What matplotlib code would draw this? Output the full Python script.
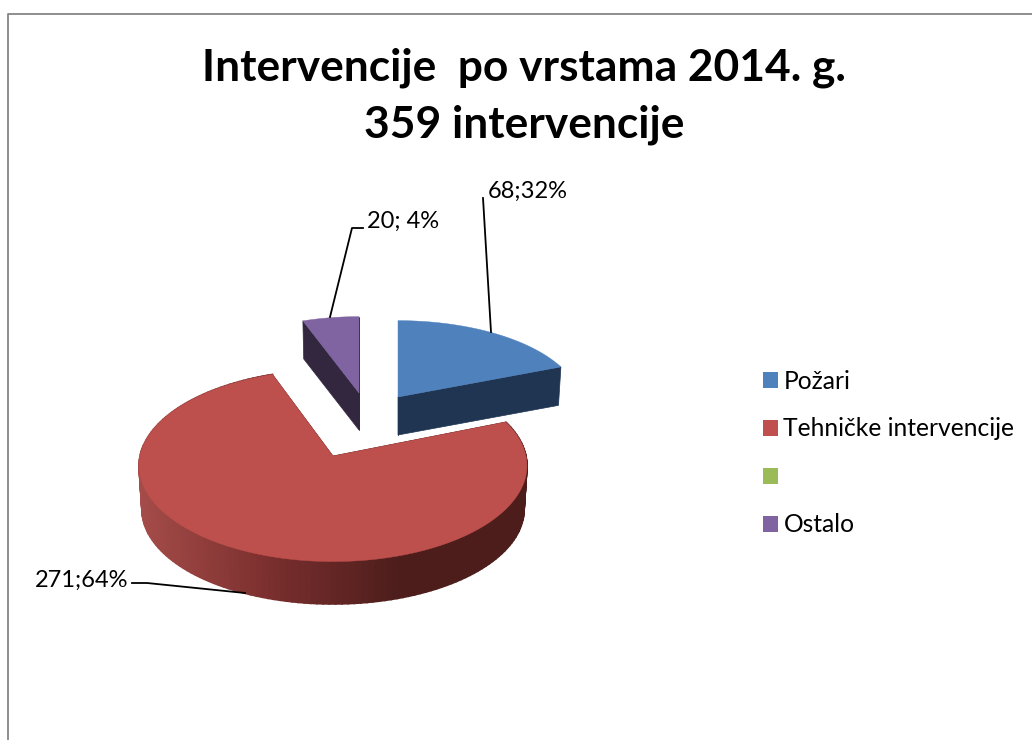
import numpy as np
import matplotlib
matplotlib.use('Agg')
import matplotlib.pyplot as plt
from matplotlib.patches import Patch
from matplotlib.colors import LinearSegmentedColormap

plt.rcParams['font.family'] = ['Lato', 'DejaVu Sans']

# Data
title_text = 'Intervencije  po vrstama 2014. g.\n359 intervencije'
categories = ['Požari', 'Tehničke intervencije', '', 'Ostalo']
values = [68, 271, 0, 20]
data_labels = ['68;32%', '271;64%', '', '20; 4%']

# Styles, one entry per slice
top_colors = ['#4F81BD', '#BD4F4C', '#9BBB59', '#8064A2']
side_colors = ['#1F3552', '#4C1D1B', '#5D7035', '#33273F']
centers = [(398, 397), (333, 456), (360, 430), (359, 393)]
radius_x = [182, 193, 180, 179]
radius_y = [84, 95, 84, 84]
depths = [38, 44, 38, 37]
PERSP = 0.1
SHRINK = 0.985

red_side = LinearSegmentedColormap.from_list('red_side', ['#A54C49', '#7A2F2E', '#4C1D1B', '#4C1D1B'])


def rim(i, theta, bottom=False):
    # screen position of a rim point, theta in degrees clockwise from north
    t = np.radians(theta)
    d = 1 + PERSP * np.cos(t)
    x = radius_x[i] * np.sin(t) / d
    y = radius_y[i] * np.cos(t) / d
    if bottom:
        return centers[i][0] + SHRINK * x, centers[i][1] - SHRINK * y + depths[i]
    return centers[i][0] + x, centers[i][1] - y


fig = plt.figure(figsize=(10.32, 7.4), dpi=100)
ax = fig.add_axes([0, 0, 1, 1])
ax.set_xlim(0, 1032)
ax.set_ylim(740, 0)
ax.axis('off')

# Chart border, only left and top are visible
ax.plot([7.5, 7.5, 1032], [740, 13.5, 13.5], color='#868686', lw=1.3)

# Slices
ends = 360 * np.cumsum(values) / np.sum(values)
starts = ends - 360 * np.array(values) / np.sum(values)

for i in [1, 3, 0]:
    a1, a2 = starts[i], ends[i]
    cx, cy = centers[i]

    # cut faces
    for a in [a1, a2]:
        xt, yt = rim(i, a)
        xb, yb = rim(i, a, bottom=True)
        ax.fill([cx, xt, xb, cx], [cy, yt, yb, cy + depths[i]], color=side_colors[i], lw=0.5)

    # outer wall, shaded by slice for the big one
    if values[i] > 100:
        steps = np.linspace(a1, a2, 160)
        for a, b in zip(steps[:-1], steps[1:]):
            xs = [rim(i, a)[0], rim(i, b)[0], rim(i, b, True)[0], rim(i, a, True)[0]]
            ys = [rim(i, a)[1], rim(i, b)[1], rim(i, b, True)[1], rim(i, a, True)[1]]
            pos = np.clip((np.mean(xs) - 139) / 390, 0, 1)
            ax.fill(xs, ys, color=red_side(pos), lw=1.2)

    # top surface
    arc = np.linspace(a1, a2, 300)
    px, py = rim(i, arc)
    ax.fill(np.r_[cx, px], np.r_[cy, py], color=top_colors[i], lw=0.3)

# Leader lines
ax.plot([491, 483], [332, 198], color='black', lw=1.3)
ax.plot([330, 352, 363], [317, 228, 228], color='black', lw=1.3)
ax.plot([245, 147, 132], [593, 583, 583], color='black', lw=1.3)

# Data labels
ax.text(488, 191, data_labels[0], fontsize=17, ha='left', va='center', color='black')
ax.text(367, 221, data_labels[3], fontsize=17, ha='left', va='center', color='black')
ax.text(35, 580, data_labels[1], fontsize=17, ha='left', va='center', color='black')

# Title
ax.text(524, 68, title_text.split('\n')[0], fontsize=31.9, fontweight='bold', ha='center', va='center')
ax.text(524, 125, title_text.split('\n')[1], fontsize=31.9, fontweight='bold', ha='center', va='center')

# Legend
handles = [Patch(facecolor=c, edgecolor='none') for c in ['#4F81BD', '#C0504D', '#9BBB59', '#8064A2']]
leg = ax.legend(handles, categories, loc='upper left', bbox_to_anchor=(763 / 1032, 1 - 369.5 / 740),
                frameon=False, fontsize=17.7, handlelength=0.61, handleheight=0.61,
                handletextpad=0.22, labelspacing=1.014, borderpad=0, borderaxespad=0)

fig.savefig('out.png', dpi=100)
